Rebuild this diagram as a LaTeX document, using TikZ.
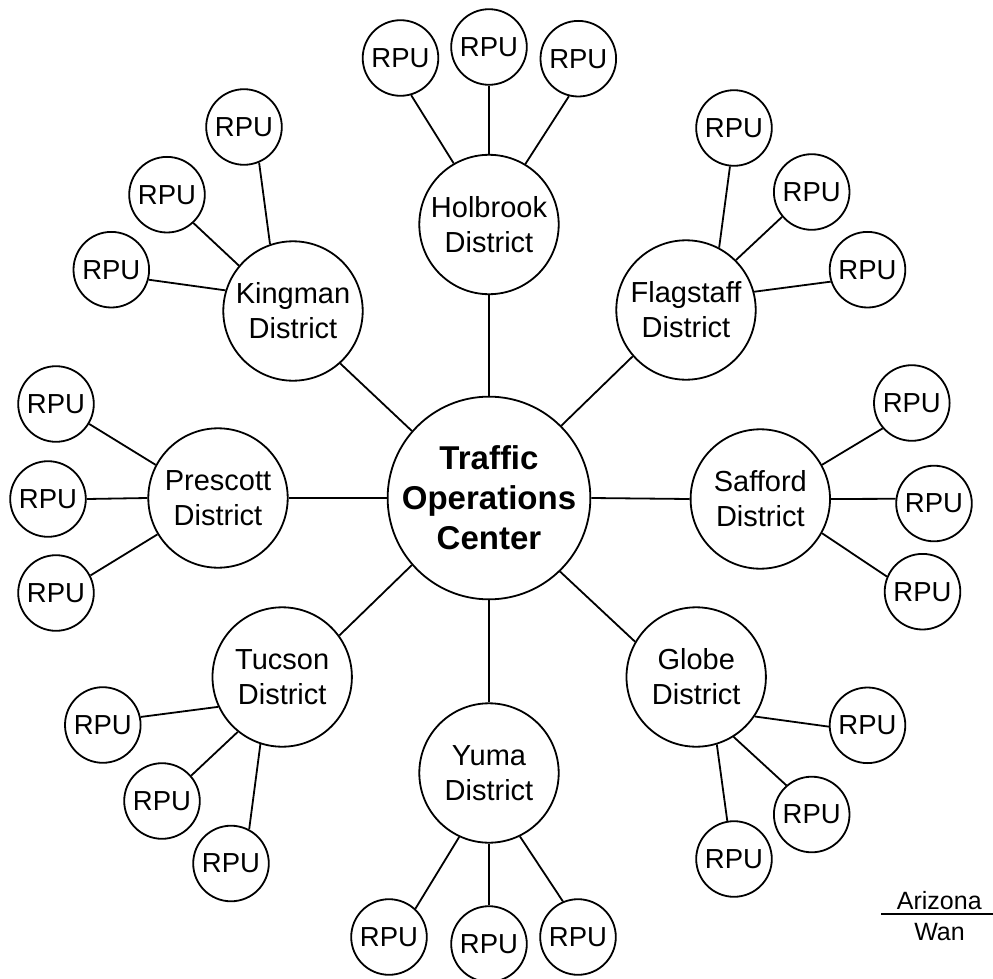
\documentclass[tikz,border=0pt]{standalone}
\usepackage{fontspec}
\setmainfont{Liberation Sans}
\begin{document}
\begin{tikzpicture}[x=1pt,y=-1pt,
  circ/.style={circle,draw,line width=1.8pt,inner sep=0pt,align=center},
  rpu/.style={circ,minimum size=75.6pt,font=\fontsize{27.5}{33}\selectfont},
  dist/.style={circ,minimum size=139.4pt,font=\fontsize{29}{35}\selectfont},
  hub/.style={circ,minimum size=192pt,font=\bfseries\fontsize{33}{40}\selectfont},
  link/.style={line width=1.8pt},
  sig/.style={font=\fontsize{25}{30}\selectfont,anchor=base,inner sep=0pt}]
\useasboundingbox (0,0) rectangle (993,979);
% hub and districts
\node[hub] (toc) at (489,498) {Traffic\\Operations\\Center};
\node[dist] (hol) at (489,224.5) {Holbrook\\District};
\node[dist] (fla) at (686,310) {Flagstaff\\District};
\node[dist] (kin) at (293,311) {Kingman\\District};
\node[dist] (pre) at (218,498) {Prescott\\District};
\node[dist] (saf) at (760.3,499) {Safford\\District};
\node[dist] (glo) at (696.2,677) {Globe\\District};
\node[dist] (tuc) at (282.2,677) {Tucson\\District};
\node[dist] (yum) at (489,773) {Yuma\\District};
% RPUs
\node[rpu] (hol1) at (400.5,58) {RPU};
\node[rpu] (hol2) at (489,47) {RPU};
\node[rpu] (hol3) at (578.3,58.7) {RPU};
\node[rpu] (fla1) at (734,128) {RPU};
\node[rpu] (fla2) at (811.7,192) {RPU};
\node[rpu] (fla3) at (867.5,269.7) {RPU};
\node[rpu] (kin1) at (244,127) {RPU};
\node[rpu] (kin2) at (167,194.7) {RPU};
\node[rpu] (kin3) at (111.3,269.7) {RPU};
\node[rpu] (pre1) at (56,404) {RPU};
\node[rpu] (pre2) at (48,499) {RPU};
\node[rpu] (pre3) at (56,593) {RPU};
\node[rpu] (saf1) at (911.8,403) {RPU};
\node[rpu] (saf2) at (934,503.5) {RPU};
\node[rpu] (saf3) at (922.5,591.7) {RPU};
\node[rpu] (glo1) at (867.5,725.3) {RPU};
\node[rpu] (glo2) at (811.7,814.5) {RPU};
\node[rpu] (glo3) at (734,859) {RPU};
\node[rpu] (tuc1) at (102.8,725) {RPU};
\node[rpu] (tuc2) at (162,801) {RPU};
\node[rpu] (tuc3) at (231,863.5) {RPU};
\node[rpu] (yum1) at (389,937) {RPU};
\node[rpu] (yum2) at (489,944) {RPU};
\node[rpu] (yum3) at (578,937) {RPU};
% hub links
\draw[link] (toc.90) -- (hol.270);
\draw[link] (toc.45) -- (fla.221);
\draw[link] (toc.139) -- (kin.-48);
\draw[link] (toc.180) -- (pre.0);
\draw[link] (toc.0) -- (saf.180);
\draw[link] (toc.-46) -- (glo.150);
\draw[link] (toc.221) -- (tuc.36);
\draw[link] (toc.270) -- (yum.90);
% RPU links
\draw[link] (hol1.-74) -- (hol.120);
\draw[link] (hol2.-90) -- (hol.90);
\draw[link] (hol3.-104) -- (hol.59);
\draw[link] (fla1.-96) -- (fla.62);
\draw[link] (fla2.220) -- (fla.45);
\draw[link] (fla3.198) -- (fla.15);
\draw[link] (kin1.-67) -- (kin.109);
\draw[link] (kin2.-47) -- (kin.140);
\draw[link] (kin3.-15) -- (kin.163);
\draw[link] (pre1.-31) -- (pre.152);
\draw[link] (pre2.0) -- (pre.180);
\draw[link] (pre3.27) -- (pre.211);
\draw[link] (saf1.221) -- (saf.29);
\draw[link] (saf2.173) -- (saf.0);
\draw[link] (saf3.157) -- (saf.-29);
\draw[link] (glo1.182) -- (glo.-34);
\draw[link] (glo2.131) -- (glo.-58);
\draw[link] (glo3.100) -- (glo.-73);
\draw[link] (tuc1.12) -- (tuc.205);
\draw[link] (tuc2.41) -- (tuc.231);
\draw[link] (tuc3.62) -- (tuc.252);
\draw[link] (yum1.47) -- (yum.245);
\draw[link] (yum2.90) -- (yum.270);
\draw[link] (yum3.113) -- (yum.-64);
% signature
\node[sig] (az) at (939.3,909.3) {Arizona};
\node[sig] (wan) at (939.5,940) {Wan};
\coordinate (barl) at (881,914);
\coordinate (barr) at (993,914);
\draw[link] (barl) -- (barr);
\end{tikzpicture}
\end{document}
